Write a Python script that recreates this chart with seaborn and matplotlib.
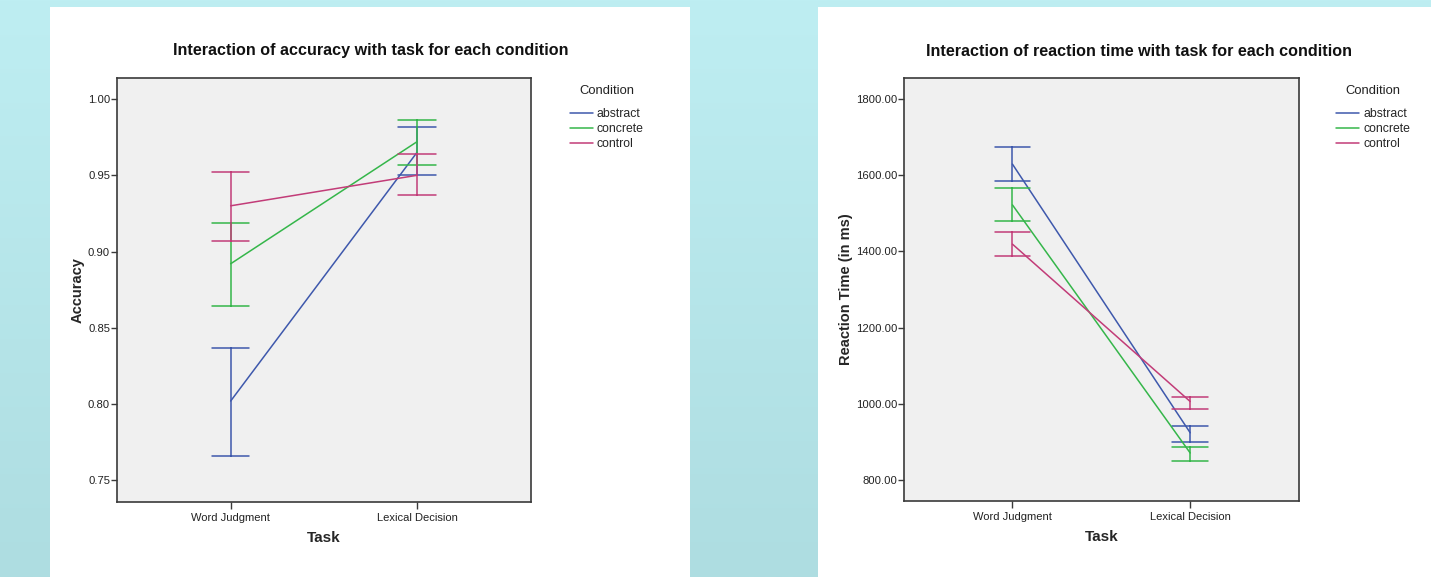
import numpy as np
import pandas as pd
import matplotlib
matplotlib.use("Agg")
import matplotlib.pyplot as plt
import seaborn as sns
from matplotlib.patches import Rectangle
from matplotlib.colors import LinearSegmentedColormap

# ---------------- data ----------------
tasks = ["Word Judgment", "Lexical Decision"]
conditions = ["abstract", "concrete", "control"]

# accuracy (rows: abstract, concrete, control; cols: tasks)
acc_mean = [[0.802, 0.965], [0.892, 0.972], [0.930, 0.950]]
acc_low = [[0.766, 0.950], [0.864, 0.957], [0.907, 0.937]]
acc_high = [[0.837, 0.982], [0.919, 0.986], [0.952, 0.964]]

# reaction time in ms
rt_mean = [[1629, 924], [1522, 871], [1419, 1006]]
rt_low = [[1584, 900], [1480, 850], [1388, 986]]
rt_high = [[1673, 942], [1567, 886], [1451, 1018]]

acc_ticks = [0.75, 0.80, 0.85, 0.90, 0.95, 1.00]
rt_ticks = [800, 1000, 1200, 1400, 1600, 1800]

colors = ["#3E58AC", "#35B64A", "#C23C78"]


def long_table(mean, low, high):
    rows = []
    for ci, cond in enumerate(conditions):
        for ti, task in enumerate(tasks):
            for v in (low[ci][ti], mean[ci][ti], high[ci][ti]):
                rows.append({"Task": task, "Condition": cond, "value": v})
    return pd.DataFrame(rows)


# ---------------- style ----------------
sns.set_style("white")
plt.rcParams["font.family"] = ["Liberation Sans", "DejaVu Sans"]

W, H = 1431, 577
fig = plt.figure(figsize=(W / 100, H / 100), dpi=100)

# background gradient + white panels
bg = fig.add_axes([0, 0, 1, 1], zorder=-10)
grad = np.linspace(0, 1, 256).reshape(-1, 1)
cmap = LinearSegmentedColormap.from_list("bg", ["#BEEEF2", "#AEDDE1"])
bg.imshow(grad, extent=[0, W, H, 0], aspect="auto", cmap=cmap)
bg.add_patch(Rectangle((50, 7), 640, H - 7, facecolor="white", edgecolor="none"))
bg.add_patch(Rectangle((818, 7), W - 818, H - 7, facecolor="white", edgecolor="none"))
bg.set_xlim(0, W)
bg.set_ylim(H, 0)
bg.axis("off")


def px_axes(x0, x1, ytop, ybot):
    return fig.add_axes([x0 / W, (H - ybot) / H, (x1 - x0) / W, (ybot - ytop) / H])


legends = []


def draw(ax, mean, low, high, ylim, yticks, fmt, ylabel, title, title_x):
    df = long_table(mean, low, high)
    sns.pointplot(
        data=df, x="Task", y="value", hue="Condition",
        order=tasks, hue_order=conditions, palette=colors,
        estimator="median", errorbar=lambda v: (v.min(), v.max()),
        capsize=0.2, markers="", dodge=False, linewidth=1.1,
        err_kws={"linewidth": 1.1}, ax=ax,
    )
    ax.set_facecolor("#F0F0F0")
    ax.set_xlim(-0.61, 1.612)
    ax.set_ylim(*ylim)
    ax.set_yticks(yticks)
    ax.yaxis.set_major_formatter(fmt)
    for s in ax.spines.values():
        s.set_visible(True)
        s.set_color("#3a3a3a")
        s.set_linewidth(1.2)
    ax.tick_params(axis="both", which="major", left=True, bottom=True,
                   direction="out", length=4, width=1,
                   color="#3a3a3a", labelsize=8.1, labelcolor="#222222", pad=1)
    ax.tick_params(axis="x", length=5, pad=3, labelsize=8)
    ax.set_xlabel("Task", fontsize=11, fontweight="bold", labelpad=6)
    ax.set_ylabel(ylabel, fontsize=10.5, fontweight="bold", labelpad=2)
    ax.grid(False)
    handles, labels = ax.get_legend_handles_labels()
    leg = ax.legend(handles, labels, loc="upper left",
                    bbox_to_anchor=(1.094, 0.929), frameon=False, fontsize=8.8,
                    handlelength=1.85, handletextpad=0.35,
                    labelspacing=0.26, borderaxespad=0, borderpad=0)
    legends.append(leg)
    fig.text(title_x / W, 1 - 51 / H, title, ha="center", va="center",
             fontsize=11.6, fontweight="bold", color="#111111")


ax1 = px_axes(117, 531, 78, 502)
draw(ax1, acc_mean, acc_low, acc_high, (0.7358, 1.0138), acc_ticks,
     "{x:.2f}", "Accuracy",
     "Interaction of accuracy with task for each condition", 371)

ax2 = px_axes(904, 1299, 78, 501)
draw(ax2, rt_mean, rt_low, rt_high, (745, 1855), rt_ticks,
     "{x:.2f}", "Reaction Time (in ms)",
     "Interaction of reaction time with task for each condition", 1139)

# legend titles centred over each legend
fig.canvas.draw()
renderer = fig.canvas.get_renderer()
for leg in legends:
    bb = leg.get_window_extent(renderer)
    cx = (bb.x0 + bb.x1) / 2 / W
    fig.text(cx, 1 - 91 / H, "Condition", ha="center", va="center",
             fontsize=9.4, color="#222222")

fig.savefig("out.png", dpi=100)
